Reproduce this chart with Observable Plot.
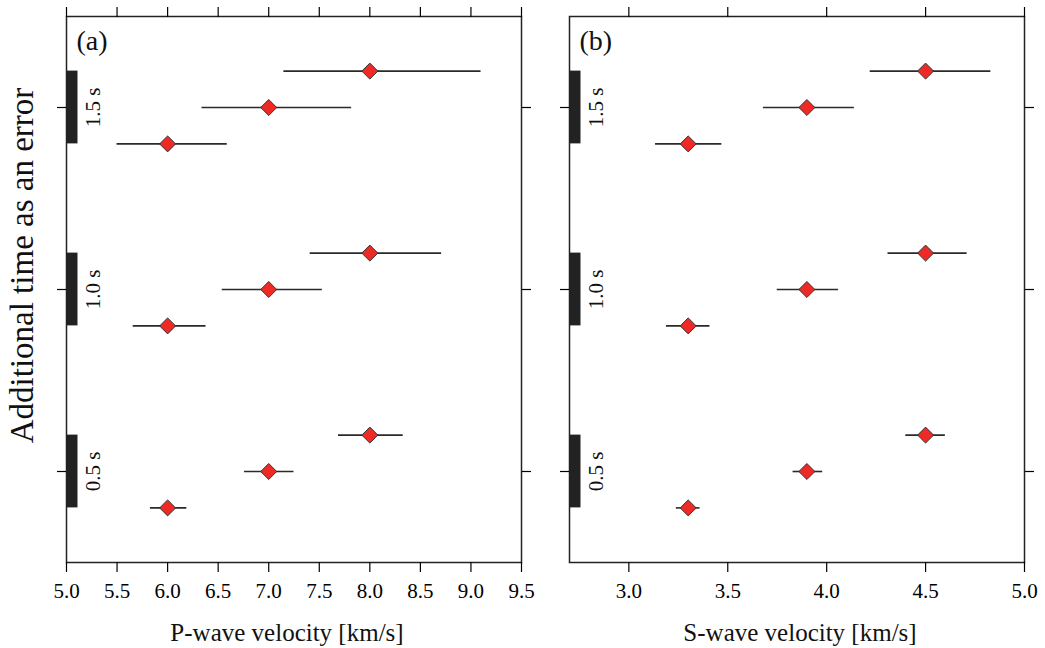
<!DOCTYPE html>
<html><head><meta charset="utf-8">
<script src="https://cdn.jsdelivr.net/npm/d3@7"></script>
<script src="https://cdn.jsdelivr.net/npm/@observablehq/plot@0.6"></script>
<style>
body{margin:0;background:#fff;}
#wrap{position:relative;width:1045px;height:648px;}
#wrap svg{position:absolute;top:0;overflow:visible;font-family:"Liberation Serif","Times New Roman",serif !important;}
#wrap svg text{font-family:"Liberation Serif","Times New Roman",serif !important;}
</style></head><body><div id="wrap"></div>
<script>
// Additional time (s) used as error, one group per value
const times = [0.5, 1.0, 1.5];
const timeLabels = ["0.5 s", "1.0 s", "1.5 s"];
// Velocities tested (km/s)
const pVelocity = [6.0, 7.0, 8.0];
const sVelocity = [3.3, 3.9, 4.5];
// Error ranges, rows = times, columns = velocities
const pLow  = [[5.83, 6.76, 7.69], [5.66, 6.54, 7.41], [5.50, 6.34, 7.15]];
const pHigh = [[6.19, 7.25, 8.33], [6.38, 7.53, 8.71], [6.59, 7.82, 9.10]];
const sLow  = [[3.24, 3.83, 4.40], [3.19, 3.75, 4.31], [3.135, 3.68, 4.22]];
const sHigh = [[3.36, 3.98, 4.60], [3.41, 4.06, 4.71], [3.47, 4.14, 4.83]];
// Axis ticks
const pTicks = [5.0, 5.5, 6.0, 6.5, 7.0, 7.5, 8.0, 8.5, 9.0, 9.5];
const sTicks = [3.0, 3.5, 4.0, 4.5, 5.0];
const panelLabels = ["(a)", "(b)"];
const xTitles = ["P-wave velocity [km/s]", "S-wave velocity [km/s]"];
const yTitle = "Additional time as an error";

const FONT = "Liberation Serif";
const rowSpread = 0.1;
function rows(vel, low, high) {
  const out = [];
  times.forEach((t, i) => vel.forEach((v, j) => out.push({
    time: t, row: t + (j - 1) * rowSpread, v, lo: low[i][j], hi: high[i][j]
  })));
  return out;
}

function panel({data, domain, ticks, label, xTitle, titleDx, withYTitle, width, marginLeft, marginRight}) {
  const x0 = domain[0];
  const marks = [
    Plot.ruleY(data, {y: "row", x1: "lo", x2: "hi", stroke: "#2a2a2a", strokeWidth: 1.6}),
    Plot.dot(data, {x: "v", y: "row", symbol: "diamond2", r: 7.2, fill: "#ee2a27", stroke: "#333", strokeWidth: 1}),
    Plot.ruleX(times, {x: () => x0, y1: t => t - rowSpread, y2: t => t + rowSpread, stroke: "#222", strokeWidth: 11, dx: 5.5}),
    Plot.text(times, {x: () => x0, y: t => t, text: (t, i) => timeLabels[i], rotate: -90, dx: 26.5, fontSize: 21, fontFamily: FONT, fill: "#111"}),
    Plot.frame({stroke: "#222", strokeWidth: 1.5}),
    Plot.axisX({anchor: "bottom", ticks, tickSize: 10, tickPadding: 11, tickFormat: d3.format(".1f"), label: null, fontSize: 21, fontFamily: FONT, strokeWidth: 1.2}),
    Plot.axisX({anchor: "top", ticks, tickSize: 10, tickFormat: () => "", label: null, strokeWidth: 1.2}),
    Plot.axisY({anchor: "left", ticks: times, tickSize: 9, tickFormat: () => "", label: null, strokeWidth: 1.2}),
    Plot.axisY({anchor: "right", ticks: times, tickSize: 9, tickFormat: () => "", label: null, strokeWidth: 1.2}),
    Plot.text([label], {frameAnchor: "top-left", dx: 10, dy: 25, fontSize: 28, fontFamily: FONT, textAnchor: "start", lineAnchor: "middle", fill: "#111"}),
    Plot.text([xTitle], {frameAnchor: "bottom", dx: titleDx, dy: 70, fontSize: 25, fontFamily: FONT, textAnchor: "middle", lineAnchor: "middle", fill: "#111"})
  ];
  if (withYTitle) marks.push(Plot.text([yTitle], {frameAnchor: "left", dx: -44, dy: -24, rotate: -90, fontSize: 33, fontFamily: FONT, textAnchor: "middle", lineAnchor: "middle", fill: "#111"}));
  return Plot.plot({
    width, height: 648,
    marginLeft, marginRight, marginTop: 16, marginBottom: 86,
    x: {domain},
    y: {domain: [0.25, 1.75]},
    marks
  });
}

const wrap = document.getElementById("wrap");
const a = panel({data: rows(pVelocity, pLow, pHigh), domain: [5.0, 9.5], ticks: pTicks, label: panelLabels[0], xTitle: xTitles[0], titleDx: -7, withYTitle: true, width: 540, marginLeft: 66, marginRight: 19});
a.style.left = "0px";
const b = panel({data: rows(sVelocity, sLow, sHigh), domain: [2.7, 5.0], ticks: sTicks, label: panelLabels[1], xTitle: xTitles[1], titleDx: 3, withYTitle: false, width: 505, marginLeft: 29, marginRight: 21});
b.style.left = "540px";
wrap.appendChild(a);
wrap.appendChild(b);
</script>
</body></html>
